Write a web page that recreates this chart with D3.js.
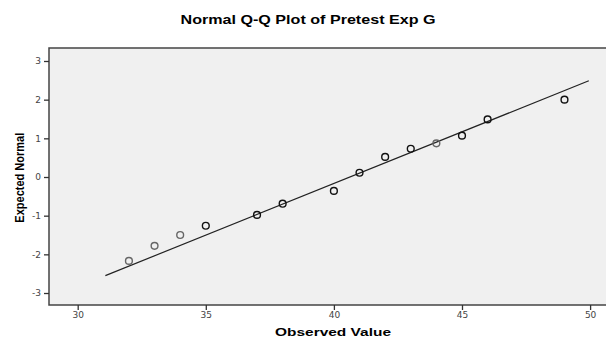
<!DOCTYPE html>
<html>
<head>
<meta charset="utf-8">
<script src="https://cdn.jsdelivr.net/npm/d3@7"></script>
<style>
  body { margin: 0; background: #fff; }
  svg { display: block; font-family: "Liberation Sans", Arial, sans-serif; }
</style>
</head>
<body>
<div id="chart"></div>
<script>
// data
var observed = [32, 33, 34, 35, 37, 38, 40, 41, 42, 43, 44, 45, 46, 49];
var expected = [-2.17, -1.78, -1.50, -1.26, -0.98, -0.69, -0.36, 0.11, 0.52, 0.73, 0.87, 1.07, 1.49, 2.00];
var counts = [1, 1, 1, 2, 3, 3, 2, 3, 2, 2, 1, 2, 2, 2];
// reference line end points
var lineX = [31.08, 49.95];
var lineY = [-2.55, 2.49];
var xTicks = [30, 35, 40, 45, 50];
var yTicks = [-3, -2, -1, 0, 1, 2, 3];

var W = 606, H = 339;
var margin = { top: 48, right: -11, bottom: 34, left: 49 },
  width = W - margin.left - margin.right,
  height = H - margin.top - margin.bottom;

var svg = d3.select("#chart").append("svg")
  .attr("width", W)
  .attr("height", H);

var g = svg.append("g")
  .attr("transform", "translate(" + margin.left + "," + margin.top + ")");

var x = d3.scaleLinear().domain([28.88, 51.05]).range([0, width]);
var y = d3.scaleLinear().domain([-3.31, 3.336]).range([height, 0]);

// plot background
g.append("rect")
  .attr("width", width)
  .attr("height", height)
  .attr("fill", "#f0f0f0")
  .attr("stroke", "#444")
  .attr("stroke-width", 1.5);

// x axis
var xAxis = g.append("g")
  .attr("transform", "translate(0," + height + ")")
  .call(d3.axisBottom(x).tickValues(xTicks).tickSize(5).tickPadding(2).tickFormat(String));
xAxis.select(".domain").remove();
xAxis.selectAll("line").attr("stroke", "#333").attr("stroke-width", 1.3);
xAxis.selectAll("text").style("font-size", "9px").attr("fill", "#444").style("font-family", "DejaVu Sans, sans-serif");

// y axis
var yAxis = g.append("g")
  .call(d3.axisLeft(y).tickValues(yTicks).tickSize(5).tickPadding(3).tickFormat(String));
yAxis.select(".domain").remove();
yAxis.selectAll("line").attr("stroke", "#333").attr("stroke-width", 1.3);
yAxis.selectAll("text").style("font-size", "9px").attr("fill", "#444").style("font-family", "DejaVu Sans, sans-serif");

// reference line
g.append("line")
  .attr("x1", x(lineX[0])).attr("y1", y(lineY[0]))
  .attr("x2", x(lineX[1])).attr("y2", y(lineY[1]))
  .attr("stroke", "#222")
  .attr("stroke-width", 1.2);

// points
g.selectAll(".pt")
  .data(observed)
  .enter()
  .append("circle")
  .attr("class", "pt")
  .attr("cx", function (d) { return x(d); })
  .attr("cy", function (d, i) { return y(expected[i]); })
  .attr("r", 3.4)
  .attr("fill", "none")
  .attr("stroke", function (d, i) { return counts[i] > 1 ? "#111" : "#666"; })
  .attr("stroke-width", 1.4);

// title
svg.append("text")
  .attr("x", 308)
  .attr("y", 23.5)
  .attr("text-anchor", "middle")
  .attr("textLength", 255)
  .attr("lengthAdjust", "spacingAndGlyphs")
  .style("font-size", "13px")
  .style("font-weight", "bold")
  .text("Normal Q-Q Plot of Pretest Exp G");

// x label
svg.append("text")
  .attr("x", 333)
  .attr("y", 335.5)
  .attr("text-anchor", "middle")
  .attr("textLength", 116)
  .attr("lengthAdjust", "spacingAndGlyphs")
  .style("font-size", "11.5px")
  .style("font-weight", "bold")
  .text("Observed Value");

// y label
svg.append("text")
  .attr("transform", "translate(24,177.7) rotate(-90)")
  .attr("text-anchor", "middle")
  .attr("textLength", 90)
  .attr("lengthAdjust", "spacingAndGlyphs")
  .style("font-size", "12px")
  .style("font-weight", "bold")
  .text("Expected Normal");
</script>
</body>
</html>
